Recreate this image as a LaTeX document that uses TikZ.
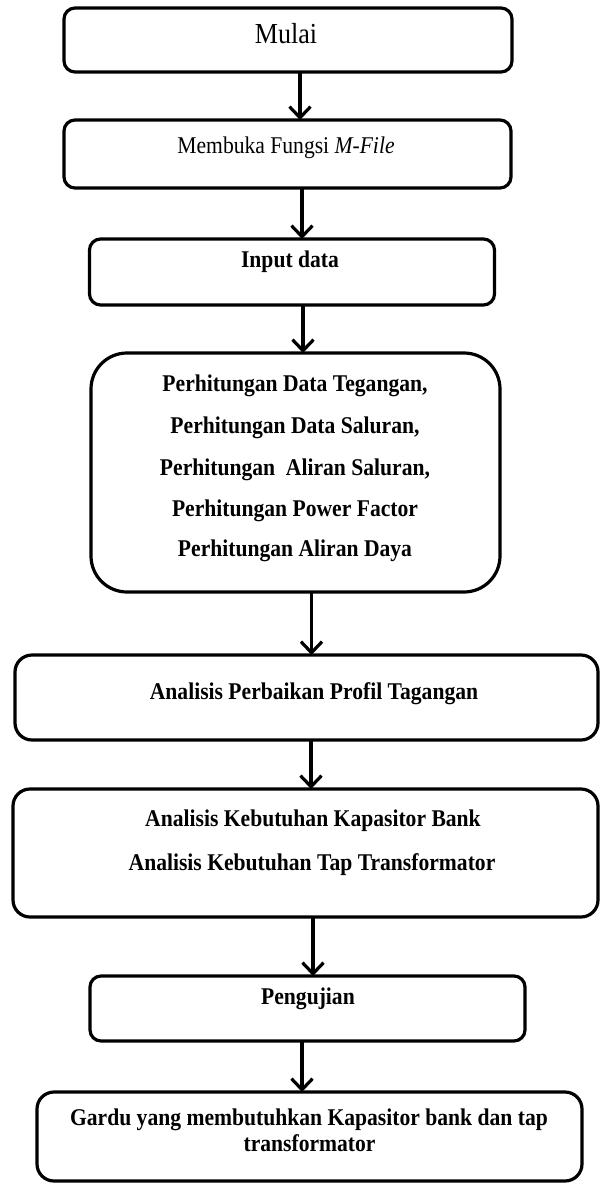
\documentclass[tikz,border=0pt]{standalone}
\usepackage{fontspec}
\setmainfont{Liberation Serif}
\newfontfamily\cnd[FakeStretch=0.9]{Liberation Serif}
\usetikzlibrary{arrows.meta}
\begin{document}
\begin{tikzpicture}[x=1pt,y=-1pt,
  box/.style={draw, line width=3.2pt, inner sep=0pt, outer sep=0pt},
  txt/.style={inner sep=0pt, anchor=base},
  bt/.style={txt, font=\cnd\fontsize{24}{28}\selectfont\bfseries},
  arr/.style={line width=3.2pt, -{Straight Barb[length=11pt,width=21pt]}}]
\useasboundingbox (0,0) rectangle (600,1184);
% boxes
\node[box, rounded corners=11pt, minimum width=448pt, minimum height=64pt] (b1) at (288,40) {};
\node[box, rounded corners=11pt, minimum width=447pt, minimum height=68pt] (b2) at (287.5,154) {};
\node[box, rounded corners=11pt, minimum width=405pt, minimum height=66pt] (b3) at (292,272) {};
\node[box, rounded corners=36pt, minimum width=409pt, minimum height=239pt] (b4) at (295.5,472.5) {};
\node[box, rounded corners=17pt, minimum width=583pt, minimum height=85pt] (b5) at (306.5,697.5) {};
\node[box, rounded corners=17pt, minimum width=585pt, minimum height=128pt] (b6) at (305.5,853) {};
\node[box, rounded corners=11pt, minimum width=435pt, minimum height=65pt] (b7) at (307.5,1008.5) {};
\node[box, rounded corners=17pt, minimum width=545pt, minimum height=89pt] (b8) at (309.5,1136.5) {};
% texts
\node[txt, font=\cnd\fontsize{29}{32}\selectfont] (t1) at (286,43) {Mulai};
\node[txt, font=\cnd\fontsize{24}{28}\selectfont] (t2) at (286,153) {Membuka Fungsi \textit{M-File}};
\node[bt] (t3) at (290,267) {Input data};
\node[bt] (t4a) at (295,391.7) {Perhitungan Data Tegangan,};
\node[bt] (t4b) at (295,433) {Perhitungan Data Saluran,};
\node[bt] (t4c) at (295,475) {Perhitungan \ Aliran Saluran,};
\node[bt] (t4d) at (295,516.7) {Perhitungan Power Factor};
\node[bt] (t4e) at (295,556.7) {Perhitungan Aliran Daya};
\node[bt] (t5) at (314,699) {Analisis Perbaikan Profil Tagangan};
\node[bt] (t6a) at (313,826.7) {Analisis Kebutuhan Kapasitor Bank};
\node[bt] (t6b) at (312,870.7) {Analisis Kebutuhan Tap Transformator};
\node[bt] (t7) at (308,1004) {Pengujian};
\node[bt] (t8a) at (309,1125) {Gardu yang membutuhkan Kapasitor bank dan tap};
\node[bt] (t8b) at (309.6,1151.7) {transformator};
% arrows
\draw[arr] ([xshift=12pt]b1.south) -- ([xshift=12.5pt]b2.north);
\draw[arr] ([xshift=14.5pt]b2.south) -- ([xshift=10pt]b3.north);
\draw[arr] ([xshift=11pt]b3.south) -- ([xshift=7.5pt]b4.north);
\draw[arr] ([xshift=16pt]b4.south) -- ([xshift=5pt]b5.north);
\draw[arr] ([xshift=4.5pt]b5.south) -- ([xshift=5.5pt]b6.north);
\draw[arr] ([xshift=7.5pt]b6.south) -- ([xshift=5.5pt]b7.north);
\draw[arr] ([xshift=-5.5pt]b7.south) -- ([xshift=-7.5pt]b8.north);
\end{tikzpicture}
\end{document}
